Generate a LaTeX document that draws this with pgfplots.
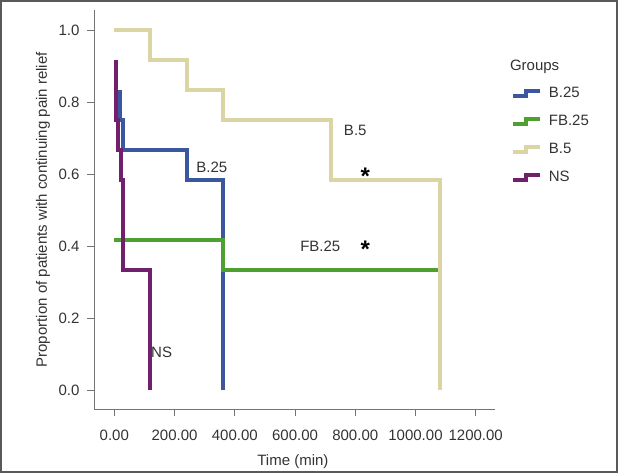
\documentclass[border=0pt]{standalone}
\usepackage{pgfplots}
\pgfplotsset{compat=1.18}
\usepackage{fontspec}
\setmainfont{Liberation Sans}

\definecolor{cB}{HTML}{3B57A0}
\definecolor{cFB}{HTML}{4EA030}
\definecolor{cBfive}{HTML}{DAD5A2}
\definecolor{cNS}{HTML}{70206C}
\definecolor{txt}{HTML}{333333}

\pgfplotsset{
  steplegend/.style={legend image code/.code={
    \draw (0pt,-2.5pt) -- (13pt,-2.5pt) -- (13pt,2.5pt) -- (27pt,2.5pt);}},
}

\begin{document}
\begin{tikzpicture}
\begin{axis}[
    at={(94pt,63.5pt)}, anchor=south west,
    scale only axis,
    width=401pt, height=399.5pt,
    xmin=-67.4, xmax=1264,
    ymin=-0.054, ymax=1.056,
    axis x line*=bottom, axis y line*=left,
    axis line style={-, draw=black!55, line width=0.9pt},
    tick style={draw=black!55, line width=0.9pt},
    tick align=outside,
    major tick length=7pt,
    xtick={0,200,...,1200},
    ytick={0,0.2,0.4,0.6,0.8,1.0},
    xticklabel style={yshift=-10pt, /pgf/number format/.cd, fixed, fixed zerofill, precision=2, 1000 sep={}},
    yticklabel style={xshift=-4pt, /pgf/number format/.cd, fixed, fixed zerofill, precision=1},
    /pgf/number format/assume math mode=true,
    ticklabel style={font=\fontsize{15}{18}\selectfont, text=txt},
    label style={font=\fontsize{15}{18}\selectfont, text=txt},
    xlabel={Time (min)},
    ylabel={Proportion of patients with continuing pain relief},
    xlabel style={at={(axis description cs:0.496,-0.131)}, anchor=center},
    ylabel style={at={(axis description cs:-0.127,0.5)}, anchor=center},
    clip=false,
    legend style={at={(axis description cs:1.039,0.812)}, anchor=north west,
      draw=none, fill=none, inner sep=0pt,
      font=\fontsize{15}{18}\selectfont, text=txt,
      row sep=12pt,
      nodes={inner sep=1pt, text height=11pt, text depth=3pt},
      /tikz/every odd column/.append style={column sep=6pt}},
    legend cell align=left,
    every axis plot/.append style={line width=4pt, line join=miter, line cap=butt},
]
% B.25
\addplot[cB, steplegend] coordinates {
  (19,0.8333) (19,0.75) (30,0.75) (30,0.6667) (240,0.6667) (240,0.5833)
  (360,0.5833) (360,0)
};
\addlegendentry{B.25}
% FB.25
\addplot[cFB, steplegend] coordinates {
  (0,0.4167) (360,0.4167) (360,0.3333) (1080,0.3333) (1080,0)
};
\addlegendentry{FB.25}
% B.5
\addplot[cBfive, steplegend] coordinates {
  (0,1.0) (120,1.0) (120,0.9167) (240,0.9167) (240,0.8333) (360,0.8333)
  (360,0.75) (720,0.75) (720,0.5833) (1080,0.5833) (1080,0)
};
\addlegendentry{B.5}
% NS
\addplot[cNS, steplegend] coordinates {
  (6,0.9167) (6,0.75) (11,0.75) (11,0.6667) (22,0.6667) (22,0.5833)
  (30,0.5833) (30,0.3333) (120,0.3333) (120,0)
};
\addlegendentry{NS}

\node[text=txt, font=\fontsize{15}{18}\selectfont] at (axis cs:324,0.620) {B.25};
\node[text=txt, font=\fontsize{15}{18}\selectfont] at (axis cs:800,0.722) {B.5};
\node[text=txt, font=\fontsize{15}{18}\selectfont] at (axis cs:684,0.400) {FB.25};
\node[text=txt, font=\fontsize{15}{18}\selectfont] at (axis cs:157,0.106) {NS};
\node[text=black, font=\fontsize{24}{24}\selectfont\bfseries, yshift=-4pt] at (axis cs:833,0.606) {*};
\node[text=black, font=\fontsize{24}{24}\selectfont\bfseries, yshift=-4pt] at (axis cs:833,0.403) {*};
\node[text=txt, font=\fontsize{15}{18}\selectfont, anchor=west, inner sep=0pt]
  at (axis description cs:1.037,0.858) {Groups};
\end{axis}
\draw[black!65, line width=2pt] (1pt,1pt) rectangle (617pt,472pt);
\pgfresetboundingbox
\path[use as bounding box] (0pt,0pt) rectangle (618pt,473pt);
\end{tikzpicture}
\end{document}
